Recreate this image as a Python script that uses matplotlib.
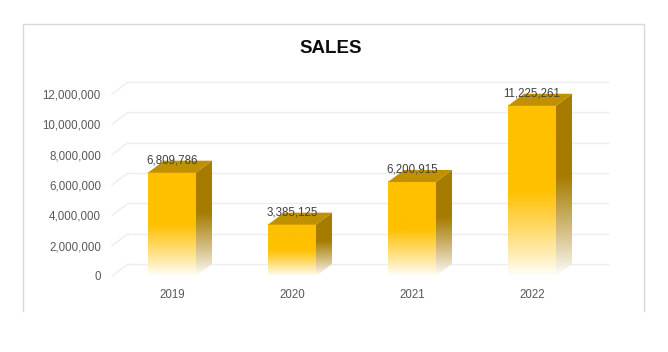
import matplotlib
matplotlib.use("Agg")
import matplotlib.pyplot as plt
import numpy as np
from matplotlib.patches import Polygon
from matplotlib.lines import Line2D
from matplotlib import transforms

# data
years = ["2019", "2020", "2021", "2022"]
sales = [6809786, 3385125, 6200915, 11225261]
yticks = [0, 2000000, 4000000, 6000000, 8000000, 10000000, 12000000]

W, H = 668, 352
fig = plt.figure(figsize=(W / 100, H / 100), dpi=100)
ax = fig.add_axes([112 / W, 76 / H, 480 / W, 182 / H])
ax.set_xlim(-0.5, 3.5)
ax.set_ylim(0, 12000000)
for s in ax.spines.values():
    s.set_visible(False)

font = "Liberation Sans"
ax.set_yticks(yticks)
ax.set_yticklabels([f"{t:,}" for t in yticks], fontsize=8.3, color="#595959", family=font)
ax.set_xticks(range(len(years)))
ax.set_xticklabels(years, fontsize=8.3, color="#595959", family=font)
ax.tick_params(axis="y", length=0, pad=8)
ax.tick_params(axis="x", length=0, pad=9.5)

# 3d depth in pixels
DX, DY = 16, 12
back = transforms.offset_copy(ax.transData, fig=fig, x=DX, y=DY, units="dots")
inv = ax.transData.inverted()


def to_back(x, y):
    px, py = ax.transData.transform((x, y))
    return inv.transform((px + DX, py + DY))


# back wall gridlines and floor diagonals
grid_c = "#EDEDED"
for t in yticks:
    ax.plot([-0.5, 3.5], [t, t], color=grid_c, lw=1, transform=back, zorder=1, clip_on=False)
    bx, by = to_back(-0.5, t)
    ax.plot([-0.5, bx], [t, by], color=grid_c, lw=1, zorder=1, clip_on=False)


def gradient(rgb, n=200, frac=0.5):
    t = np.linspace(0, 1, n)
    m = np.clip(t / frac, 0, 1) ** 0.9
    c = np.array(rgb)
    img = (1 - m)[:, None] * np.ones(3) + m[:, None] * c
    return img[:, None, :]


front_c = np.array([255, 192, 0]) / 255
side_c = np.array([166, 124, 0]) / 255
top_c = "#BF9000"
bw = 0.4

for i, v in enumerate(sales):
    x0, x1 = i - bw / 2, i + bw / 2
    # front face
    ax.imshow(gradient(front_c), extent=(x0, x1, 0, v), origin="lower",
              aspect="auto", zorder=3, clip_on=False, interpolation="bilinear")
    # side face
    b1 = to_back(x1, v)
    b0 = to_back(x1, 0)
    side = Polygon([(x1, 0), (x1, v), b1, b0], closed=True, fc="none", ec="none")
    ax.add_patch(side)
    im = ax.imshow(gradient(side_c, frac=0.55), extent=(x1, b1[0], 0, b1[1]), origin="lower",
                   aspect="auto", zorder=3, interpolation="bilinear")
    im.set_clip_path(side)
    # top face
    t0 = to_back(x0, v)
    ax.add_patch(Polygon([(x0, v), (x1, v), b1, t0], closed=True, fc=top_c, ec="none",
                         zorder=4, clip_on=False))
    ax.annotate(f"{v:,}", (i, v), xytext=(0, 12), textcoords="offset pixels",
                ha="center", va="center", fontsize=8.3, color="#404040", family=font,
                zorder=5, annotation_clip=False)

ax.set_xlim(-0.5, 3.5)
ax.set_ylim(0, 12000000)

fig.text(331 / W, 1 - 48.5 / H, "SALES", ha="center", va="center", fontsize=13.5,
         fontweight="bold", color="#0D0D0D", family=font)

# chart border (bottom cut off)
bc = "#D9D9D9"
L, R, T, B = 22.5 / W, 643.5 / W, 1 - 23.5 / H, 1 - 311 / H
fig.add_artist(Line2D([L, L, R, R], [B, T, T, B], color=bc, lw=1))

fig.savefig("out.png", dpi=100)
